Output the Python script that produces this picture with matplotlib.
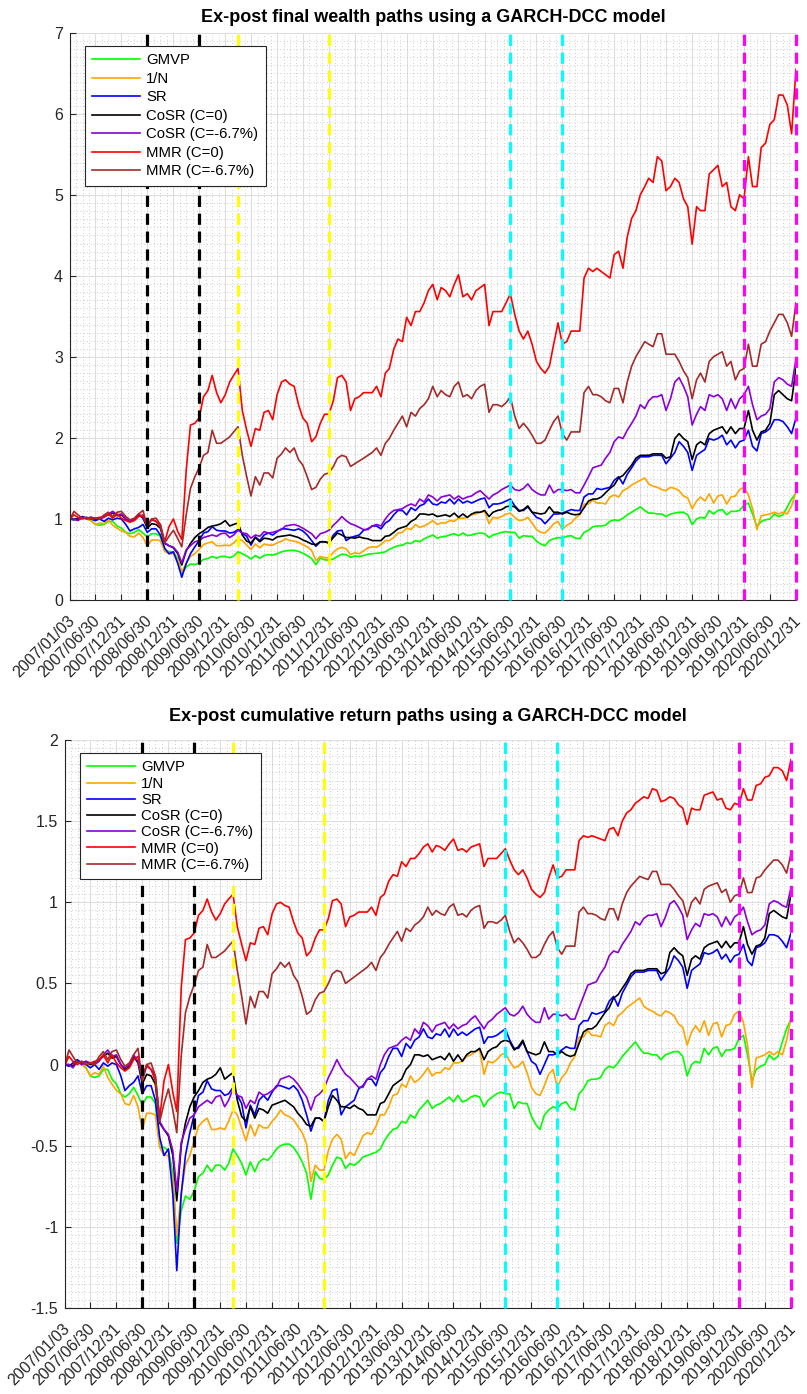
import numpy as np
import pandas as pd
import matplotlib
matplotlib.use('Agg')
import matplotlib.pyplot as plt
from matplotlib.ticker import MultipleLocator, FixedLocator, FuncFormatter, NullFormatter
from matplotlib.transforms import ScaledTranslation
import matplotlib.dates as mdates

plt.rcParams['font.family'] = ['Liberation Sans', 'DejaVu Sans']

# monthly observation dates: first trading day, then month ends
dates = pd.DatetimeIndex([pd.Timestamp('2007-01-03')]).append(
    pd.date_range('2007-01-31', '2020-12-31', freq='ME'))

# cumulative (log) returns of each strategy; final wealth is exp() of these
cum_gmvp = [0, -0.01, 0.00, 0.02, 0.00, -0.02, -0.07, -0.08, -0.07, -0.03, -0.03, -0.09, -0.12, -0.18, -0.20, -0.18, -0.14, -0.19, -0.25, -0.20, -0.20, -0.24, -0.51, -0.51, -0.53, -0.67, -1.10, -0.90, -0.81,
            -0.83, -0.78, -0.69, -0.67, -0.62, -0.66, -0.62, -0.62, -0.65, -0.61, -0.52, -0.56, -0.61, -0.68, -0.60, -0.66, -0.60, -0.58, -0.59, -0.56, -0.52, -0.50, -0.49, -0.49, -0.51, -0.55, -0.60, -0.67, -0.83,
            -0.66, -0.70, -0.71, -0.68, -0.62, -0.57, -0.58, -0.64, -0.61, -0.62, -0.60, -0.57, -0.56, -0.55, -0.54, -0.52, -0.47, -0.43, -0.40, -0.39, -0.35, -0.36, -0.31, -0.33, -0.28, -0.25, -0.22, -0.27, -0.25,
            -0.24, -0.22, -0.20, -0.23, -0.19, -0.23, -0.22, -0.20, -0.19, -0.20, -0.26, -0.22, -0.20, -0.18, -0.17, -0.18, -0.18, -0.27, -0.23, -0.24, -0.24, -0.32, -0.37, -0.40, -0.31, -0.28, -0.26, -0.27, -0.24,
            -0.23, -0.27, -0.28, -0.18, -0.15, -0.10, -0.09, -0.09, -0.08, -0.03, -0.01, -0.02, 0.01, 0.05, 0.08, 0.11, 0.14, 0.10, 0.07, 0.07, 0.06, 0.06, 0.03, 0.06, 0.07, 0.08, 0.08, 0.05, -0.07,
            0.00, 0.02, 0.01, 0.10, 0.06, 0.10, 0.11, 0.05, 0.09, 0.09, 0.10, 0.16, 0.18, 0.06, -0.10, -0.03, -0.01, 0.00, 0.06, 0.03, 0.05, 0.14, 0.22, 0.28]

cum_naive = [0, -0.01, 0.00, 0.02, 0.00, -0.02, -0.07, -0.05, -0.06, -0.01, -0.08, -0.12, -0.16, -0.18, -0.24, -0.25, -0.19, -0.26, -0.40, -0.30, -0.30, -0.31, -0.51, -0.56, -0.56, -0.72, -1.05, -0.80, -0.62,
             -0.56, -0.47, -0.38, -0.35, -0.33, -0.40, -0.40, -0.39, -0.40, -0.35, -0.28, -0.31, -0.39, -0.47, -0.37, -0.44, -0.37, -0.39, -0.39, -0.35, -0.32, -0.28, -0.31, -0.32, -0.34, -0.38, -0.42, -0.49, -0.72,
             -0.62, -0.65, -0.65, -0.53, -0.46, -0.43, -0.46, -0.58, -0.54, -0.56, -0.50, -0.44, -0.42, -0.43, -0.38, -0.31, -0.31, -0.26, -0.19, -0.18, -0.12, -0.14, -0.07, -0.11, -0.09, -0.06, -0.02, -0.07, -0.05,
             -0.05, -0.02, -0.03, 0.01, 0.01, 0.02, 0.05, 0.06, 0.08, 0.09, -0.06, 0.02, 0.01, 0.03, 0.06, 0.07, 0.02, -0.02, -0.01, 0.02, -0.05, -0.14, -0.18, -0.19, -0.13, -0.06, -0.03, -0.14, -0.08,
             -0.05, 0.01, 0.05, 0.17, 0.17, 0.21, 0.18, 0.18, 0.17, 0.24, 0.26, 0.24, 0.30, 0.32, 0.35, 0.37, 0.39, 0.41, 0.36, 0.34, 0.33, 0.31, 0.30, 0.33, 0.32, 0.30, 0.25, 0.23, 0.12,
             0.20, 0.24, 0.20, 0.27, 0.18, 0.25, 0.26, 0.17, 0.24, 0.25, 0.31, 0.33, 0.26, 0.12, -0.14, 0.04, 0.05, 0.06, 0.08, 0.06, 0.08, 0.06, 0.15, 0.29]

cum_sr = [0, -0.01, 0.01, 0.03, 0.01, 0.00, -0.02, 0.00, -0.03, 0.01, -0.01, 0.01, 0.00, -0.07, -0.16, -0.13, -0.11, -0.07, -0.18, -0.13, -0.13, -0.22, -0.45, -0.56, -0.52, -0.80, -1.27, -0.80, -0.56,
          -0.42, -0.31, -0.19, -0.17, -0.10, -0.15, -0.16, -0.16, -0.19, -0.18, -0.14, -0.19, -0.24, -0.39, -0.25, -0.31, -0.22, -0.19, -0.22, -0.17, -0.13, -0.13, -0.14, -0.15, -0.13, -0.16, -0.22, -0.31, -0.41,
          -0.33, -0.33, -0.35, -0.22, -0.16, -0.15, -0.31, -0.26, -0.24, -0.22, -0.15, -0.13, -0.09, -0.09, -0.13, -0.05, -0.02, 0.05, 0.10, 0.10, 0.05, 0.13, 0.10, 0.15, 0.17, 0.22, 0.17, 0.16, 0.19,
          0.18, 0.22, 0.17, 0.22, 0.18, 0.20, 0.18, 0.20, 0.22, 0.23, 0.13, 0.17, 0.17, 0.18, 0.20, 0.22, 0.15, 0.10, 0.10, 0.14, 0.08, 0.02, 0.00, -0.06, 0.00, 0.06, 0.06, 0.07, 0.09,
          0.11, 0.10, 0.10, 0.24, 0.27, 0.27, 0.32, 0.31, 0.32, 0.33, 0.39, 0.42, 0.36, 0.44, 0.49, 0.54, 0.57, 0.57, 0.57, 0.58, 0.58, 0.58, 0.52, 0.56, 0.60, 0.67, 0.64, 0.60, 0.47,
          0.58, 0.60, 0.62, 0.69, 0.68, 0.69, 0.71, 0.65, 0.68, 0.63, 0.67, 0.68, 0.74, 0.64, 0.61, 0.72, 0.73, 0.75, 0.80, 0.80, 0.79, 0.76, 0.72, 0.81]

cum_cosr0 = [0, 0.00, -0.01, 0.02, 0.01, 0.02, 0.00, 0.01, 0.03, 0.05, 0.07, 0.04, 0.05, 0.00, -0.03, -0.01, 0.05, 0.01, -0.12, -0.06, -0.07, -0.12, -0.36, -0.40, -0.44, -0.56, -0.84, -0.50, -0.36,
             -0.26, -0.20, -0.16, -0.11, -0.09, -0.08, -0.06, -0.02, -0.09, -0.07, -0.05, -0.22, -0.32, -0.35, -0.26, -0.33, -0.27, -0.28, -0.30, -0.25, -0.24, -0.23, -0.22, -0.24, -0.26, -0.30, -0.33, -0.37, -0.38,
             -0.33, -0.33, -0.35, -0.26, -0.19, -0.22, -0.26, -0.26, -0.27, -0.25, -0.27, -0.28, -0.31, -0.31, -0.31, -0.24, -0.23, -0.18, -0.13, -0.11, -0.09, -0.03, 0.00, 0.06, 0.06, 0.05, 0.06, 0.03, 0.04,
             0.05, 0.03, 0.07, 0.02, 0.06, 0.02, 0.06, 0.08, 0.08, 0.10, 0.03, 0.08, 0.10, 0.11, 0.14, 0.15, 0.14, 0.09, 0.11, 0.15, 0.08, 0.07, 0.06, 0.07, 0.14, 0.08, 0.08, 0.06, 0.08,
             0.06, 0.05, 0.06, 0.13, 0.20, 0.22, 0.22, 0.24, 0.28, 0.32, 0.35, 0.41, 0.43, 0.47, 0.51, 0.56, 0.58, 0.58, 0.58, 0.59, 0.59, 0.59, 0.56, 0.57, 0.69, 0.72, 0.69, 0.67, 0.55,
             0.65, 0.67, 0.65, 0.72, 0.74, 0.75, 0.76, 0.72, 0.76, 0.72, 0.75, 0.75, 0.85, 0.74, 0.68, 0.73, 0.74, 0.78, 0.93, 0.95, 0.93, 0.91, 0.90, 1.05]

cum_cosr67 = [0, 0.00, -0.02, 0.02, 0.00, 0.02, 0.01, 0.00, 0.02, 0.06, 0.09, 0.05, 0.06, 0.00, -0.02, 0.00, 0.06, 0.02, -0.09, -0.01, -0.03, -0.07, -0.35, -0.40, -0.43, -0.53, -0.78, -0.48, -0.40,
              -0.33, -0.31, -0.26, -0.24, -0.22, -0.24, -0.20, -0.19, -0.26, -0.22, -0.15, -0.19, -0.20, -0.27, -0.22, -0.24, -0.17, -0.19, -0.18, -0.16, -0.14, -0.09, -0.08, -0.07, -0.09, -0.12, -0.16, -0.20, -0.28,
              -0.20, -0.18, -0.15, -0.08, -0.03, 0.03, -0.02, -0.06, -0.08, -0.11, -0.14, -0.14, -0.09, -0.07, -0.09, 0.00, 0.06, 0.10, 0.11, 0.12, 0.15, 0.17, 0.15, 0.22, 0.19, 0.26, 0.24, 0.20, 0.24,
              0.25, 0.26, 0.22, 0.25, 0.22, 0.24, 0.25, 0.28, 0.30, 0.26, 0.22, 0.26, 0.28, 0.31, 0.33, 0.35, 0.31, 0.30, 0.32, 0.36, 0.31, 0.28, 0.26, 0.26, 0.35, 0.28, 0.31, 0.31, 0.30,
              0.31, 0.28, 0.28, 0.35, 0.42, 0.49, 0.50, 0.51, 0.56, 0.60, 0.67, 0.70, 0.69, 0.74, 0.78, 0.82, 0.88, 0.86, 0.90, 0.92, 0.92, 0.93, 0.85, 0.91, 0.99, 1.01, 0.97, 0.92, 0.77,
              0.83, 0.87, 0.85, 0.93, 0.92, 0.93, 0.91, 0.85, 0.91, 0.86, 0.91, 0.93, 0.97, 0.88, 0.80, 0.82, 0.83, 0.86, 0.99, 1.01, 1.00, 0.98, 0.97, 1.09]

cum_mmr0 = [0, 0.05, 0.02, 0.00, 0.02, 0.00, 0.01, 0.02, 0.03, 0.06, 0.01, 0.06, 0.01, -0.02, -0.04, -0.02, 0.03, 0.05, -0.08, 0.00, -0.03, -0.10, -0.33, -0.10, 0.00, -0.17, -0.29, 0.47, 0.77,
            0.78, 0.81, 0.92, 0.95, 1.02, 0.94, 0.89, 0.93, 0.99, 1.02, 1.05, 0.85, 0.74, 0.64, 0.75, 0.74, 0.84, 0.85, 0.80, 0.93, 0.99, 1.00, 0.98, 0.97, 0.88, 0.81, 0.78, 0.67, 0.70,
            0.78, 0.83, 0.83, 0.90, 1.01, 1.02, 0.99, 0.85, 0.91, 0.92, 0.94, 0.94, 0.94, 0.97, 0.92, 1.03, 1.05, 1.13, 1.17, 1.16, 1.25, 1.22, 1.27, 1.27, 1.30, 1.34, 1.36, 1.31, 1.35,
            1.34, 1.32, 1.36, 1.39, 1.32, 1.33, 1.31, 1.34, 1.35, 1.36, 1.22, 1.27, 1.27, 1.27, 1.30, 1.33, 1.26, 1.20, 1.17, 1.20, 1.15, 1.08, 1.05, 1.03, 1.06, 1.15, 1.23, 1.15, 1.16,
            1.20, 1.20, 1.20, 1.38, 1.41, 1.40, 1.41, 1.40, 1.39, 1.38, 1.45, 1.46, 1.41, 1.50, 1.55, 1.57, 1.61, 1.63, 1.65, 1.64, 1.70, 1.69, 1.62, 1.63, 1.65, 1.64, 1.60, 1.58, 1.48,
            1.58, 1.57, 1.57, 1.66, 1.67, 1.68, 1.63, 1.64, 1.58, 1.57, 1.61, 1.60, 1.70, 1.63, 1.63, 1.72, 1.73, 1.77, 1.78, 1.83, 1.83, 1.81, 1.75, 1.88]

cum_mmr67 = [0, 0.09, 0.05, 0.01, 0.02, 0.00, 0.01, 0.00, 0.05, 0.08, 0.03, 0.08, 0.09, 0.03, -0.01, 0.01, 0.06, 0.10, -0.10, 0.00, 0.01, -0.07, -0.35, -0.24, -0.15, -0.28, -0.42, 0.05, 0.32,
             0.42, 0.49, 0.58, 0.60, 0.74, 0.66, 0.66, 0.68, 0.70, 0.73, 0.76, 0.58, 0.42, 0.25, 0.42, 0.35, 0.45, 0.45, 0.41, 0.56, 0.59, 0.63, 0.60, 0.63, 0.55, 0.51, 0.42, 0.31, 0.33,
             0.40, 0.44, 0.45, 0.50, 0.56, 0.58, 0.57, 0.50, 0.52, 0.54, 0.56, 0.58, 0.60, 0.63, 0.58, 0.66, 0.69, 0.74, 0.78, 0.82, 0.76, 0.84, 0.82, 0.86, 0.88, 0.91, 0.97, 0.92, 0.95,
             0.93, 0.92, 0.97, 0.99, 0.92, 0.93, 0.91, 0.95, 0.97, 0.98, 0.84, 0.88, 0.88, 0.87, 0.89, 0.92, 0.82, 0.75, 0.78, 0.75, 0.71, 0.66, 0.66, 0.68, 0.74, 0.79, 0.82, 0.72, 0.68,
             0.73, 0.73, 0.73, 0.94, 0.97, 0.93, 0.93, 0.92, 0.90, 0.89, 0.96, 0.96, 0.89, 0.99, 1.06, 1.10, 1.13, 1.16, 1.15, 1.14, 1.19, 1.19, 1.11, 1.11, 1.11, 1.08, 1.04, 1.01, 0.91,
             1.00, 1.03, 0.99, 1.08, 1.10, 1.11, 1.12, 1.06, 1.08, 1.00, 1.04, 1.05, 1.15, 1.06, 1.06, 1.15, 1.16, 1.20, 1.23, 1.26, 1.26, 1.23, 1.18, 1.30]

labels = ['GMVP', '1/N', 'SR', 'CoSR (C=0)', 'CoSR (C=-6.7%)', 'MMR (C=0)', 'MMR (C=-6.7%)']
colors = ['#00ff00', '#ffa500', '#0000ff', '#000000', '#8b00d8', '#ff0000', '#a52a2a']
cumret = [np.array(c) for c in (cum_gmvp, cum_naive, cum_sr, cum_cosr0, cum_cosr67, cum_mmr0, cum_mmr67)]
wealth = [np.exp(c) for c in cumret]

# crisis windows marked by pairs of dashed lines
event_dates = ['2008-06-30', '2009-06-30', '2010-03-31', '2011-12-31',
               '2015-06-30', '2016-06-30', '2019-12-31', '2020-12-31']
event_colors = ['black', 'black', '#ffff00', '#ffff00',
                '#00ffff', '#00ffff', '#ff00ff', '#ff00ff']

tick_dates = [pd.Timestamp('2007-01-03')] + list(pd.date_range('2007-06-30', '2020-12-31', freq='6ME'))
tick_nums = mdates.date2num(tick_dates)
tick_text = [d.strftime('%Y/%m/%d') for d in tick_dates]
# three dotted minor lines between neighbouring date ticks
minor_nums = [a + (b - a) * k / 4 for a, b in zip(tick_nums[:-1], tick_nums[1:]) for k in (1, 2, 3)]

fig = plt.figure(figsize=(8.07, 13.94), dpi=100)
ax1 = fig.add_axes([70 / 807, 1 - 600 / 1394, 726 / 807, 567 / 1394])
ax2 = fig.add_axes([65 / 807, 1 - 1308 / 1394, 726 / 807, 568 / 1394])
label_shift = ScaledTranslation(-3 / 100, -13 / 100, fig.dpi_scale_trans)


def style_axes(ax, ylim, ymajor, yminor):
    ax.set_xlim(pd.Timestamp('2007-01-03'), pd.Timestamp('2020-12-31'))
    ax.set_ylim(*ylim)
    ax.yaxis.set_major_locator(MultipleLocator(ymajor))
    ax.yaxis.set_minor_locator(MultipleLocator(yminor))
    ax.yaxis.set_major_formatter(FuncFormatter(lambda v, p: '%g' % round(v, 2)))
    ax.xaxis.set_major_locator(FixedLocator(tick_nums))
    ax.xaxis.set_minor_locator(FixedLocator(minor_nums))
    ax.xaxis.set_major_formatter(NullFormatter())
    # slanted date labels hanging below each tick
    for x, s in zip(tick_nums, tick_text):
        ax.text(x, 0, s, transform=ax.get_xaxis_transform() + label_shift,
                rotation=45, ha='right', va='top', rotation_mode='anchor',
                fontsize=11.5, color='#262626', clip_on=False)
    ax.grid(which='major', color='#dedede', linewidth=0.8)
    ax.grid(which='minor', color='#bdbdbd', linestyle=(0, (1, 3)), linewidth=0.6)
    ax.set_axisbelow(True)
    for side in ['top', 'right']:
        ax.spines[side].set_visible(False)
    for side in ['left', 'bottom']:
        ax.spines[side].set_color('#262626')
        ax.spines[side].set_linewidth(0.8)
    ax.tick_params(which='major', direction='in', length=4, width=0.8,
                   colors='#262626', labelsize=11.5)
    ax.tick_params(which='minor', length=0)
    ax.tick_params(axis='y', pad=5)


for ax, title, paths, ylim, ymaj, ymin, tpad, lspace in [
        (ax1, 'Ex-post final wealth paths using a GARCH-DCC model', wealth, (0, 7), 1, 0.1, 8, 0.3),
        (ax2, 'Ex-post cumulative return paths using a GARCH-DCC model', cumret, (-1.5, 2), 0.5, 0.05, 14, 0.15)]:
    for vals, lab, col in zip(paths, labels, colors):
        ax.plot(dates, vals, color=col, linewidth=1.2, label=lab)
    for d, c in zip(event_dates, event_colors):
        ax.axvline(pd.Timestamp(d), color=c, linewidth=2.3, linestyle=(0, (3.5, 2.1)),
                   zorder=5, clip_on=False)
    style_axes(ax, ylim, ymaj, ymin)
    ax.set_title(title, fontsize=13, fontweight='bold', pad=tpad)
    leg = ax.legend(loc='upper left', bbox_to_anchor=(0.02, 0.977), borderaxespad=0,
                    fontsize=10.7, frameon=True, fancybox=False, framealpha=1,
                    edgecolor='#262626', handlelength=3.2, labelspacing=lspace,
                    borderpad=0.5, handletextpad=0.45)
    leg.get_frame().set_linewidth(0.8)
    leg.set_zorder(10)

fig.savefig('out.png', dpi=100)
